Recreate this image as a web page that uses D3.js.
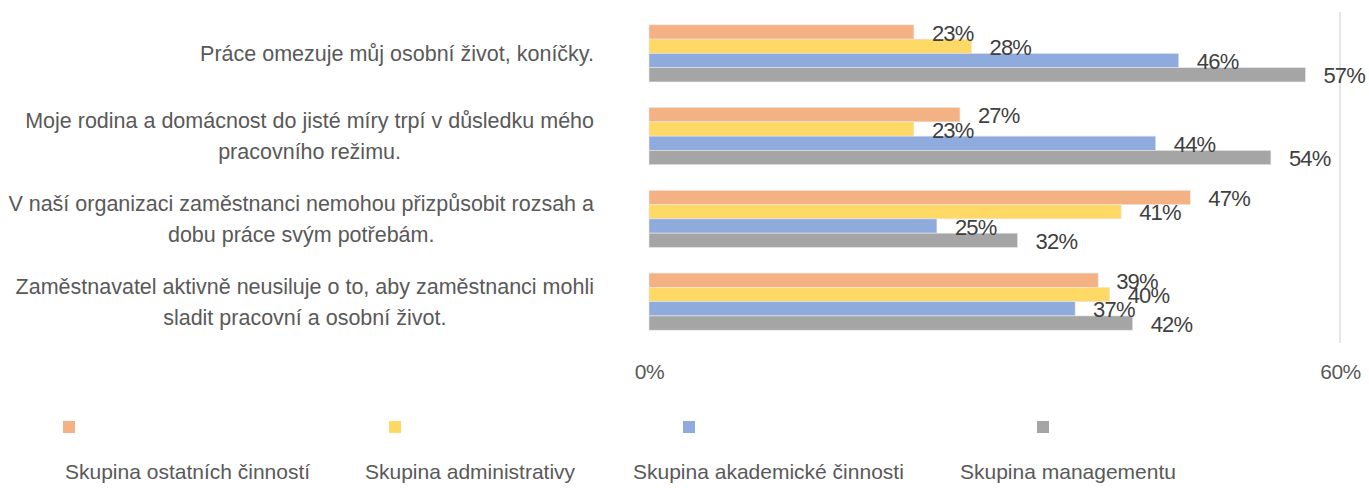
<!DOCTYPE html>
<html>
<head>
<meta charset="utf-8">
<script src="https://cdn.jsdelivr.net/npm/d3@7"></script>
<style>
  body { margin: 0; background: #fff; }
  text { font-family: "Liberation Sans", Arial, sans-serif; }
</style>
</head>
<body>
<div id="chart"></div>
<script>
// data
const categories = [
  "Práce omezuje můj osobní život, koníčky.",
  "Moje rodina a domácnost do jisté míry trpí v důsledku mého pracovního režimu.",
  "V naší organizaci zaměstnanci nemohou přizpůsobit rozsah a dobu práce svým potřebám.",
  "Zaměstnavatel aktivně neusiluje o to, aby zaměstnanci mohli sladit pracovní a osobní život."
];
// how the category labels wrap
const categoryLines = [
  ["Práce omezuje můj osobní život, koníčky."],
  ["Moje rodina a domácnost do jisté míry trpí v důsledku mého", "pracovního režimu."],
  ["V naší organizaci zaměstnanci nemohou přizpůsobit rozsah a", "dobu práce svým potřebám."],
  ["Zaměstnavatel aktivně neusiluje o to, aby zaměstnanci mohli", "sladit pracovní a osobní život."]
];
const seriesNames = [
  "Skupina ostatních činností",
  "Skupina administrativy",
  "Skupina akademické činnosti",
  "Skupina managementu"
];
const ostatni = [0.23, 0.27, 0.47, 0.39];
const administrativa = [0.28, 0.23, 0.41, 0.40];
const akademici = [0.46, 0.44, 0.25, 0.37];
const management = [0.57, 0.54, 0.32, 0.42];
const xTicks = [0, 0.6];

const seriesValues = [ostatni, administrativa, akademici, management];
const colors = ["#F4B183", "#FFD966", "#8FAADC", "#A5A5A5"];

/** CONSTANTS */
const width = 1369, height = 488;
const plot = { left: 649, right: 1340, top: 12, bottom: 343 };
const labelRight = 594;
const legendSquareX = [63, 389, 683, 1037];
const legendTextX = [65, 365, 633, 960];

const svg = d3.select("#chart").append("svg")
  .attr("width", width)
  .attr("height", height);

// SCALES
const xScale = d3.scaleLinear()
  .domain([0, 0.6])
  .range([plot.left, plot.right]);

const yScale = d3.scaleBand()
  .domain(categories)
  .range([plot.top, plot.bottom])
  .paddingInner(0.31)
  .paddingOuter(0.155);

const ySub = d3.scaleBand()
  .domain(seriesNames)
  .range([0, yScale.bandwidth()]);

// gridline at 60%
svg.append("line")
  .attr("x1", xScale(0.6)).attr("x2", xScale(0.6))
  .attr("y1", plot.top).attr("y2", plot.bottom)
  .attr("stroke", "#d9d9d9")
  .attr("stroke-width", 1.3);

// x axis labels
const xAxis = d3.axisBottom(xScale)
  .tickValues(xTicks)
  .tickFormat(d3.format(".0%"))
  .tickSize(0)
  .tickPadding(21);

svg.append("g")
  .attr("transform", `translate(0,${plot.bottom})`)
  .call(xAxis)
  .call(g => g.select(".domain").remove())
  .selectAll("text")
  .attr("font-family", "Liberation Sans, Arial, sans-serif")
  .attr("font-size", 21)
  .attr("letter-spacing", -0.5)
  .attr("fill", "#595959");

// rows of data: one object per bar
const bars = [];
categories.forEach((c, i) => {
  seriesNames.forEach((s, j) => {
    bars.push({ cat: c, series: s, value: seriesValues[j][i], color: colors[j] });
  });
});

svg.append("g")
  .selectAll("rect")
  .data(bars)
  .join("rect")
  .attr("x", xScale(0))
  .attr("y", d => yScale(d.cat) + ySub(d.series))
  .attr("width", d => xScale(d.value) - xScale(0))
  .attr("height", ySub.bandwidth())
  .attr("fill", d => d.color)
  .attr("stroke", "#e8e8e8")
  .attr("stroke-width", 0.6);

// value labels
svg.append("g")
  .selectAll("text")
  .data(bars)
  .join("text")
  .attr("x", d => xScale(d.value) + 18)
  .attr("y", d => yScale(d.cat) + ySub(d.series) + ySub.bandwidth() / 2 + 1)
  .attr("dy", "0.35em")
  .attr("font-size", 22)
  .attr("fill", "#404040")
  .attr("letter-spacing", -0.8)
  .text(d => Math.round(d.value * 100) + "%");

// category labels (lines centered inside a block, block right aligned)
const lineH = 31;
categories.forEach((c, i) => {
  const lines = categoryLines[i];
  const cy = yScale(c) + yScale.bandwidth() / 2;
  const t = svg.append("text")
    .attr("font-size", 21.5)
    .attr("fill", "#595959")
    .attr("text-anchor", "middle");
  lines.forEach((ln, k) => {
    t.append("tspan")
      .attr("y", cy + (k - (lines.length - 1) / 2) * lineH)
      .attr("dy", "0.35em")
      .text(ln);
  });
  const w = d3.max(t.selectAll("tspan").nodes(), n => n.getComputedTextLength());
  t.selectAll("tspan").attr("x", labelRight - w / 2);
});

// legend
const legend = svg.append("g");
seriesNames.forEach((s, j) => {
  legend.append("rect")
    .attr("x", legendSquareX[j])
    .attr("y", 421)
    .attr("width", 12)
    .attr("height", 12)
    .attr("fill", colors[j]);
  legend.append("text")
    .attr("x", legendTextX[j])
    .attr("y", 479)
    .attr("font-size", 21)
    .attr("fill", "#595959")
    .text(s);
});
</script>
</body>
</html>
